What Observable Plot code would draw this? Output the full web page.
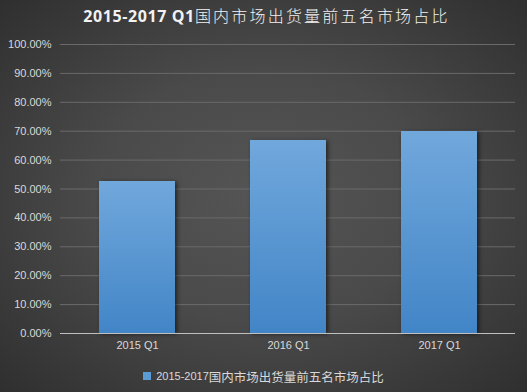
<!DOCTYPE html>
<html><head><meta charset="utf-8">
<script src="https://cdn.jsdelivr.net/npm/d3@7"></script>
<script src="https://cdn.jsdelivr.net/npm/@observablehq/plot@0.6"></script>
<style>
body{margin:0;}
#wrap{position:relative;width:527px;height:392px;overflow:hidden;
background:radial-gradient(ellipse at 50% 50%, #555555 0%, #4a4a4a 45%, #2f2f2f 100%);
font-family:"Liberation Sans","Noto Sans CJK SC",sans-serif;}
#title{height:30px;line-height:30px;text-align:center;color:#f2f2f2;font-size:16px;font-weight:bold;
font-family:"Open Sans","Noto Sans CJK SC",sans-serif;letter-spacing:0.6px;padding-left:6px;}
#title .cjk{font-weight:300;font-family:"Noto Sans CJK SC",sans-serif;letter-spacing:2.2px;font-size:16px;}
#legend{height:32px;display:flex;align-items:center;justify-content:center;color:#d9d9d9;font-size:11px;margin-left:0px;}
#legend .sw{width:8px;height:8px;background:#5b9bd5;margin-right:5px;}
#legend .cjk{font-family:"Noto Sans CJK SC",sans-serif;font-size:12.5px;}
svg rect.bar{filter:drop-shadow(2px 1px 2px rgba(0,0,0,0.55));}
</style></head>
<body><div id="wrap">
<div id="title">2015-2017 Q1<span class="cjk">国内市场出货量前五名市场占比</span></div>
<div id="chart"></div>
<div id="legend"><div class="sw"></div><span>2015-2017</span><span class="cjk">国内市场出货量前五名市场占比</span></div>
</div>
<script>
const quarters = ["2015 Q1","2016 Q1","2017 Q1"];
const shares = [0.526, 0.668, 0.699];
const yTicks = [0,0.1,0.2,0.3,0.4,0.5,0.6,0.7,0.8,0.9,1.0];
const data = quarters.map((q,i)=>({q, v: shares[i]}));

const chart = Plot.plot({
  width: 527, height: 330,
  marginTop: 14, marginBottom: 27, marginLeft: 60, marginRight: 12,
  style: {background: "transparent", color: "#d9d9d9", fontSize: "11px", fontFamily: "Liberation Sans, sans-serif"},
  x: {domain: quarters, paddingInner: 0.5, paddingOuter: 0.25, align: 0.5, label: null, tickSize: 0, tickPadding: 8},
  y: {domain: [0, 1], ticks: yTicks, tickFormat: d => (d*100).toFixed(2) + "%", label: null, tickSize: 0, tickPadding: 9},
  marks: [
    Plot.gridY(yTicks.filter(d=>d>0), {stroke: "#6a6a6a", strokeOpacity: 1, strokeWidth: 1}),
    Plot.barY(data, {x: "q", y: "v", fill: "url(#barGrad)"}),
    Plot.ruleY([0], {stroke: "#bfbfbf", strokeWidth: 1})
  ]
});
const svg = d3.select(chart);
const defs = svg.insert("defs", ":first-child");
const g = defs.append("linearGradient").attr("id","barGrad").attr("x1",0).attr("y1",0).attr("x2",0).attr("y2",1);
g.append("stop").attr("offset","0%").attr("stop-color","#71a8dc");
g.append("stop").attr("offset","100%").attr("stop-color","#4285c7");
svg.selectAll("rect").attr("class","bar");
document.getElementById("chart").appendChild(chart);
</script>
</body></html>
